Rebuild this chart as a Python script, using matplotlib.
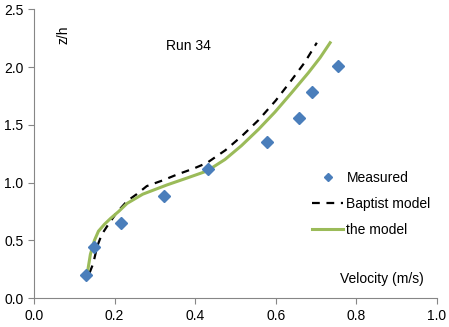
import matplotlib.pyplot as plt
import numpy as np

plt.rcParams['font.family'] = ['Liberation Sans', 'DejaVu Sans']

# measured data
meas_u = np.array([0.130, 0.150, 0.216, 0.323, 0.433, 0.578, 0.659, 0.689, 0.755])
meas_z = np.array([0.20, 0.44, 0.655, 0.88, 1.12, 1.355, 1.56, 1.785, 2.005])

# Baptist model
bap_u = np.array([0.138, 0.147, 0.157, 0.168, 0.181, 0.205, 0.231, 0.255, 0.280, 0.320, 0.355,
                  0.395, 0.429, 0.475, 0.515, 0.557, 0.600, 0.640, 0.672, 0.702])
bap_z = np.array([0.22, 0.30, 0.45, 0.55, 0.62, 0.74, 0.84, 0.90, 0.97, 1.02, 1.07,
                  1.12, 1.17, 1.28, 1.40, 1.54, 1.71, 1.89, 2.04, 2.21])

# the model
mod_u = np.array([0.133, 0.140, 0.150, 0.160, 0.175, 0.190, 0.210, 0.231, 0.270, 0.330, 0.380,
                  0.429, 0.474, 0.515, 0.557, 0.598, 0.640, 0.681, 0.710, 0.735])
mod_z = np.array([0.23, 0.38, 0.50, 0.58, 0.64, 0.69, 0.75, 0.82, 0.90, 0.98, 1.04,
                  1.10, 1.20, 1.32, 1.46, 1.61, 1.78, 1.95, 2.08, 2.21])

fig = plt.figure(figsize=(4.49, 3.27), dpi=100)
ax = fig.add_axes([0.0757, 0.088, 0.8973, 0.8838])

ax.plot(bap_u, bap_z, '--', color='black', lw=1.6, dashes=(3.5, 3), label='Baptist model')
ax.plot(mod_u, mod_z, '-', color='#9bbb59', lw=2.2, label='the model')
ax.plot(meas_u, meas_z, 'D', color='#4a7ebb', ms=6, ls='none', label='Measured')

ax.set_xlim(0, 1.0)
ax.set_ylim(0, 2.5)
ax.set_xticks(np.arange(0, 1.01, 0.2))
ax.set_yticks(np.arange(0, 2.51, 0.5))
ax.xaxis.set_major_formatter(plt.FormatStrFormatter('%.1f'))
ax.yaxis.set_major_formatter(plt.FormatStrFormatter('%.1f'))
for s in ['top', 'right']:
    ax.spines[s].set_visible(False)
for s in ['left', 'bottom']:
    ax.spines[s].set_color('#868686')
ax.tick_params(direction='out', color='#868686', labelsize=10, length=4)

ax.text(0.074, 0.911, 'z/h', rotation=90, transform=ax.transAxes, fontsize=10, ha='center', va='center')
ax.text(0.384, 0.873, 'Run 34', transform=ax.transAxes, fontsize=10, ha='center', va='center')
ax.text(0.864, 0.067, 'Velocity (m/s)', transform=ax.transAxes, fontsize=10, ha='center', va='center')

h, l = ax.get_legend_handles_labels()
ax.legend([h[2], h[0], h[1]], [l[2], l[0], l[1]], frameon=False, fontsize=10,
          loc='upper left', bbox_to_anchor=(0.691, 0.44), borderaxespad=0, borderpad=0,
          handlelength=2.2, handletextpad=0.25, labelspacing=0.87, markerscale=0.7)

fig.savefig('out.png')
